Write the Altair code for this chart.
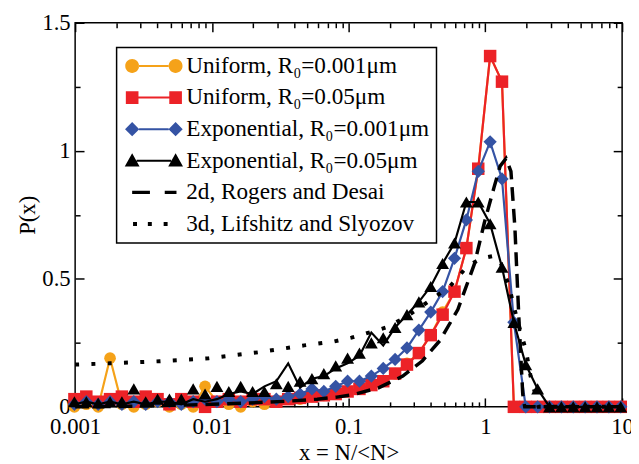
import altair as alt
import pandas as pd

FONT = "Liberation Serif"

# ---------------- data ----------------
x_grid = [0.000988, 0.001207, 0.001474, 0.0018, 0.002198, 0.002685, 0.00328, 0.004006,
          0.004893, 0.005976, 0.007299, 0.008915, 0.01089, 0.0133, 0.01624, 0.01984,
          0.02423, 0.0296, 0.03615, 0.04416, 0.05393, 0.06587, 0.08046, 0.09827,
          0.12, 0.1466, 0.1791, 0.2187, 0.2671, 0.3263, 0.3985, 0.4868, 0.5945,
          0.7261, 0.8869, 1.0833, 1.3231, 1.6161, 1.9739, 2.4109, 2.9447, 3.5966,
          4.3929, 5.3656, 6.5535, 8.0045, 9.7767]

uni_001 = [0.0, 0.01, 0.0, 0.19, 0.01, 0.0, 0.01, 0.02, 0.0, 0.01,
           0.0, 0.08, 0.02, 0.01, 0.0, 0.02, 0.01, 0.02, 0.03, 0.03,
           0.04, 0.045, 0.05, 0.06, 0.07, 0.085, 0.10, 0.13, 0.17, 0.21,
           0.28, 0.37, 0.45, 0.62, 0.93, 1.37, 1.27, 0, 0, 0,
           0, 0, 0, 0, 0, 0, 0]
uni_05 = [0.03, 0.04, 0.02, 0.03, 0.04, 0.02, 0.04, 0.03, 0.01, 0.03,
          0.02, 0.0, 0.02, 0.03, 0.02, 0.03, 0.03, 0.02, 0.03, 0.035,
          0.04, 0.045, 0.05, 0.06, 0.07, 0.085, 0.10, 0.13, 0.165, 0.21,
          0.28, 0.36, 0.45, 0.62, 0.93, 1.37, 1.27, 0, 0, 0,
          0, 0, 0, 0, 0, 0, 0]
exp_001 = [0.01, 0.02, 0.01, 0.02, 0.01, 0.02, 0.01, 0.02, 0.02, 0.01,
           0.02, 0.03, 0.02, 0.03, 0.02, 0.03, 0.04, 0.03, 0.04, 0.05,
           0.07, 0.06, 0.08, 0.10, 0.10, 0.12, 0.15, 0.185, 0.23, 0.30,
           0.37, 0.45, 0.58, 0.73, 0.92, 1.035, 0.89, 0.33, 0, 0,
           0, 0, 0, 0, 0, 0, 0]
exp_05_tri = [0.02, 0.02, 0.015, 0.02, 0.02, 0.07, 0.02, 0.03, 0.03, 0.03,
              0.07, 0.05, 0.08, 0.06, 0.08, 0.06, 0.06, 0.09, 0.08, 0.10,
              0.11, 0.13, 0.16, 0.19, 0.21, 0.25, 0.27, 0.31, 0.36, 0.41,
              0.47, 0.56, 0.64, 0.80, 0.80, 0.715, 0.545, 0.33, 0.165, 0.07,
              0, 0, 0, 0, 0, 0, 0]
exp_05_line = [0.01, 0.02, 0.01, 0.02, 0.01, 0.02, 0.01, 0.02, 0.02, 0.01,
               0.03, 0.02, 0.03, 0.05, 0.06, 0.05, 0.08, 0.10, 0.17, 0.075,
               0.11, 0.12, 0.15, 0.17, 0.20, 0.29, 0.24, 0.31, 0.36, 0.41,
               0.47, 0.56, 0.64, 0.80, 0.80, 0.715, 0.545, 0.33, 0.165, 0.07,
               0, 0, 0, 0, 0, 0, 0]

rd_x = [0.001, 0.00253, 0.00806, 0.01846, 0.0358, 0.0589, 0.082, 0.1087, 0.167,
        0.249, 0.347, 0.467, 0.629, 0.834, 0.984, 1.161, 1.282, 1.416, 1.538,
        1.644, 1.757, 1.876, 1.94, 10.0]
rd_y = [0.0, 0.002, 0.008, 0.015, 0.022, 0.03, 0.038, 0.048, 0.075,
        0.12, 0.18, 0.26, 0.38, 0.56, 0.72, 0.86, 0.94, 0.97, 0.92,
        0.70, 0.35, 0.05, 0.0, 0.0]

ls_x = [0.001, 0.0018, 0.00416, 0.0095, 0.0218, 0.0473, 0.0778, 0.105, 0.188,
        0.262, 0.38, 0.55, 0.74, 0.94, 1.16, 1.30, 1.49, 1.69, 1.98, 2.14,
        2.29, 2.45, 10.0]
ls_y = [0.165, 0.17, 0.178, 0.19, 0.213, 0.24, 0.255, 0.27, 0.31,
        0.35, 0.41, 0.47, 0.55, 0.58, 0.59, 0.56, 0.47, 0.35, 0.22, 0.12,
        0.06, 0.0, 0.0]

series = ["Uniform, R\u2080=0.001\u03bcm", "Uniform, R\u2080=0.05\u03bcm",
          "Exponential, R\u2080=0.001\u03bcm", "Exponential, R\u2080=0.05\u03bcm",
          "2d, Rogers and Desai", "3d, Lifshitz and Slyozov"]
colors = ["#F5A219", "#EC2227", "#3553A4", "#000000", "#000000", "#000000"]

x_major = [0.001, 0.01, 0.1, 1, 10]
x_minor = [m * 10.0 ** e for e in range(-3, 1) for m in range(2, 10)]
y_major = [0, 0.5, 1, 1.5]
y_minor = [0.25, 0.75, 1.25]

# ---------------- tables ----------------
def table(xs, ys, name):
    return pd.DataFrame({"x": xs, "y": ys, "series": name})

d_uni001 = table(x_grid, uni_001, series[0])
d_uni05 = table(x_grid, uni_05, series[1])
d_exp001 = table(x_grid, exp_001, series[2])
d_exp05t = table(x_grid, exp_05_tri, series[3])
d_exp05l = table(x_grid, exp_05_line, series[3])
d_rd = table(rd_x, rd_y, series[4])
d_ls = table(ls_x, ls_y, series[5])
d_frame = pd.DataFrame({"x": [0.001], "y": [0.0]})
d_legend = pd.DataFrame({"x": [1.0] * 6, "y": [0.5] * 6, "series": series})

W, H = 554, 389
xs = alt.Scale(type="log", domain=[0.001, 10], nice=False)
ys = alt.Scale(domain=[0, 1.5], nice=False)
cs = alt.Scale(domain=series, range=colors)

# legend symbols (double marker with connecting line); 1 unit = 10 px
paths = [
    "M-1.5,0A0.7,0.7 0 1,0 -2.9,0A0.7,0.7 0 1,0 -1.5,0Z M2.9,0A0.7,0.7 0 1,0 1.5,0A0.7,0.7 0 1,0 2.9,0Z M-1.52,-0.1H1.52V0.1H-1.52Z",
    "M-2.84,-0.64H-1.56V0.64H-2.84Z M1.56,-0.64H2.84V0.64H1.56Z M-1.58,-0.1H1.58V0.1H-1.58Z",
    "M-2.92,0L-2.2,-0.72L-1.48,0L-2.2,0.72Z M1.48,0L2.2,-0.72L2.92,0L2.2,0.72Z M-1.5,-0.1H1.5V0.1H-1.5Z",
    "M-2.2,-0.75L-1.45,0.58L-2.95,0.58Z M2.2,-0.75L2.95,0.58L1.45,0.58Z M-1.75,-0.1H1.75V0.1H-1.75Z",
    "M-2.2,-0.17H-0.4V0.17H-2.2Z M1.1,-0.17H2.29V0.17H1.1Z",
    "M-2.11,-0.2H-1.71V0.2H-2.11Z M-0.61,-0.2H-0.21V0.2H-0.61Z M0.99,-0.2H1.39V0.2H0.99Z",
]
ss = alt.Scale(domain=series, range=paths)

legend = alt.Legend(
    title=None, orient="none", legendX=42, legendY=25,
    labelFont=FONT, labelFontSize=23.5, labelColor="black", labelLimit=400,
    labelOffset=21, symbolSize=400, symbolOffset=19, symbolStrokeWidth=0, symbolOpacity=1,
    padding=7, rowPadding=7, strokeColor="black", fillColor="white",
)


def X():
    return alt.X("x:Q", scale=xs, axis=None)


def Y():
    return alt.Y("y:Q", scale=ys, axis=None)


def line(df, col, **kw):
    return alt.Chart(df).mark_line(color=col, **kw).encode(x=X(), y=Y())


def pts(df, col, shape, size):
    return alt.Chart(df).mark_point(filled=True, opacity=1, shape=shape, size=size,
                                    color=col, strokeWidth=0).encode(x=X(), y=Y())


legend_layer = alt.Chart(d_legend).transform_filter("false").mark_point(
    filled=True, opacity=1, strokeWidth=0).encode(
    x=X(), y=Y(),
    color=alt.Color("series:N", scale=cs, legend=legend),
    shape=alt.Shape("series:N", scale=ss, legend=legend),
)

# ---------------- axes ----------------
axc = dict(domain=False, grid=False, tickColor="black", tickWidth=1.5,
           labelFont=FONT, labelFontSize=23, labelColor="black",
           titleFont=FONT, titleFontSize=23, titleColor="black", titleFontWeight="normal")


def axis_layer(xa, ya):
    return alt.Chart(d_frame).mark_point(opacity=0).encode(
        x=alt.X("x:Q", scale=xs, axis=xa), y=alt.Y("y:Q", scale=ys, axis=ya))


ax_main = axis_layer(
    alt.Axis(orient="bottom", values=x_major, format="~g", ticks=False, tickSize=0,
             labelPadding=9, labelFlush=False, labelOverlap=False,
             title="x = N/<N>", titlePadding=3, **axc),
    alt.Axis(orient="left", values=y_major, format="~g", ticks=False, tickSize=0,
             labelPadding=5, labelFlush=False, labelOverlap=False,
             title="P(x)", titlePadding=2, **axc),
)


def tick_axis(orient, offset, vals, size):
    return alt.Axis(orient=orient, offset=offset, values=vals, labels=False, ticks=True,
                    tickSize=size, title=None, **axc)


ax_in_major = axis_layer(tick_axis("top", -H, x_major, 9), tick_axis("right", -W, y_major, 9))
ax_in_minor = axis_layer(tick_axis("top", -H, x_minor, 5), tick_axis("right", -W, y_minor, 5))
ax_op_major = axis_layer(tick_axis("bottom", -H, x_major, 9), tick_axis("left", -W, y_major, 9))
ax_op_minor = axis_layer(tick_axis("bottom", -H, x_minor, 5), tick_axis("left", -W, y_minor, 5))

layers = [
    ax_main, ax_in_major, ax_in_minor, ax_op_major, ax_op_minor,
    line(d_uni001, colors[0], strokeWidth=2.2), pts(d_uni001, colors[0], "circle", 140),
    line(d_uni05, colors[1], strokeWidth=2.2), pts(d_uni05, colors[1], "square", 160),
    line(d_exp001, colors[2], strokeWidth=2.2), pts(d_exp001, colors[2], "diamond", 180),
    line(d_exp05l, colors[3], strokeWidth=2.2), pts(d_exp05t, colors[3], "triangle-up", 170),
    line(d_rd, colors[4], strokeWidth=3.5, strokeDash=[14, 8]),
    line(d_ls, colors[5], strokeWidth=4, strokeDash=[4, 12.5], strokeCap="butt"),
    legend_layer,
]

chart = alt.layer(*layers).resolve_axis(x="independent", y="independent").properties(
    width=W, height=H,
    autosize=alt.AutoSizeParams(type="none"),
    padding={"left": 68, "top": 12, "right": 9, "bottom": 60},
).configure_view(stroke="black", strokeWidth=1.5).configure_legend(strokeWidth=1.5)

chart.save("out.html", embed_options={"renderer": "svg", "actions": False})
